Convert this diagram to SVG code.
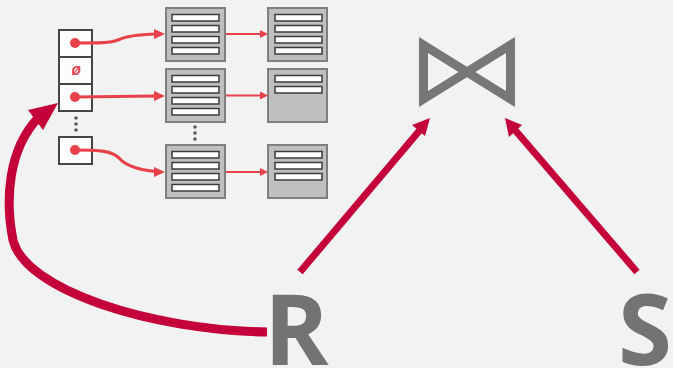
<svg xmlns="http://www.w3.org/2000/svg" width="673" height="368" viewBox="0 0 673 368">
<style>
.cell{fill:#fdfdfd;stroke:#454545;stroke-width:2}
.page{fill:#bfbfbf;stroke:#7f7f7f;stroke-width:2}
.row{fill:#ffffff;stroke:#3c3c3c;stroke-width:1.5}
.dot{fill:#e8414a}
.hl{fill:none;stroke:#e8414a;stroke-width:3.2;stroke-linecap:round}
.pl{fill:none;stroke:#e8414a;stroke-width:2}
.ah{fill:#e8414a}
.big{fill:none;stroke:#c4003a}
.bah{fill:#c4003a}
.vd{fill:#5a5a5a}
.lbl{font-family:"Open Sans",sans-serif;font-weight:700;font-size:98px;fill:#737373}
</style>
<rect width="673" height="368" fill="#f2f2f2"/>
<g id="hashtable">
<rect class="cell" x="59" y="30" width="33" height="27"/>
<rect class="cell" x="59" y="57" width="33" height="27"/>
<rect class="cell" x="59" y="84" width="33" height="27"/>
<rect class="cell" x="59" y="137" width="33" height="27"/>
<circle class="dot" cx="75" cy="43" r="5"/>
<circle class="dot" cx="75" cy="97" r="5"/>
<circle class="dot" cx="75" cy="150" r="5"/>
<text x="76" y="75" text-anchor="middle" font-family="Open Sans,sans-serif" font-style="italic" font-weight="700" font-size="13" fill="#e8414a">Ø</text>
<circle class="vd" cx="76" cy="118" r="1.8"/>
<circle class="vd" cx="76" cy="124" r="1.8"/>
<circle class="vd" cx="76" cy="130" r="1.8"/>
</g>
<g id="page1a">
<rect class="page" x="166" y="8" width="59" height="53"/>
<rect class="row" x="172" y="14.5" width="47" height="6.5"/>
<rect class="row" x="172" y="25.5" width="47" height="6.5"/>
<rect class="row" x="172" y="36.5" width="47" height="6.5"/>
<rect class="row" x="172" y="47.5" width="47" height="6.5"/>
</g>
<g id="page1b">
<rect class="page" x="268" y="8" width="59" height="53"/>
<rect class="row" x="275" y="14.5" width="47" height="6.5"/>
<rect class="row" x="275" y="25.5" width="47" height="6.5"/>
<rect class="row" x="275" y="36.5" width="47" height="6.5"/>
<rect class="row" x="275" y="47.5" width="47" height="6.5"/>
</g>
<g id="page2a">
<rect class="page" x="166" y="69" width="59" height="53"/>
<rect class="row" x="172" y="75.5" width="47" height="6.5"/>
<rect class="row" x="172" y="86.5" width="47" height="6.5"/>
<rect class="row" x="172" y="97.5" width="47" height="6.5"/>
<rect class="row" x="172" y="108.5" width="47" height="6.5"/>
</g>
<g id="page2b">
<rect class="page" x="268" y="69" width="59" height="53"/>
<rect class="row" x="275" y="75.5" width="47" height="6.5"/>
<rect class="row" x="275" y="86.5" width="47" height="6.5"/>
</g>
<g id="pagedots">
<circle class="vd" cx="195" cy="127" r="1.8"/>
<circle class="vd" cx="195" cy="133" r="1.8"/>
<circle class="vd" cx="195" cy="139" r="1.8"/>
</g>
<g id="page3a">
<rect class="page" x="166" y="145" width="59" height="53"/>
<rect class="row" x="172" y="151.5" width="47" height="6.5"/>
<rect class="row" x="172" y="162.5" width="47" height="6.5"/>
<rect class="row" x="172" y="173.5" width="47" height="6.5"/>
<rect class="row" x="172" y="184.5" width="47" height="6.5"/>
</g>
<g id="page3b">
<rect class="page" x="268" y="145" width="59" height="53"/>
<rect class="row" x="275" y="151.5" width="47" height="6.5"/>
<rect class="row" x="275" y="162.5" width="47" height="6.5"/>
<rect class="row" x="275" y="173.5" width="47" height="6.5"/>
</g>
<g id="join">
<path d="M423.5,45 L423.5,99 L510.5,45 L510.5,99 Z" fill="none" stroke="#777777" stroke-width="9" stroke-linejoin="miter" stroke-miterlimit="10"/>
</g>
<g id="R"><text class="lbl" x="264" y="365">R</text></g>
<g id="S"><text class="lbl" x="618" y="365">S</text></g>
<g id="connectors">
<path class="hl" d="M75,43 C100,43 110,43 118,40 C126,36 138,34.5 156,34"/>
<polygon class="ah" points="165,34 154,29 154,39"/>
<path class="hl" d="M75,97 L156,96"/>
<polygon class="ah" points="165,96 154,91 154,101"/>
<path class="hl" d="M75,150 C100,150 112,151 119,158 C126,166 138,170 156,171.5"/>
<polygon class="ah" points="165,172 154,167 154,177"/>
<line class="pl" x1="226" y1="34" x2="261" y2="34"/>
<polygon class="ah" points="268,34 260,30 260,38"/>
<line class="pl" x1="226" y1="95.5" x2="261" y2="95.5"/>
<polygon class="ah" points="268,95.5 260,91.5 260,99.5"/>
<line class="pl" x1="226" y1="172" x2="261" y2="172"/>
<polygon class="ah" points="268,172 260,168 260,176"/>
<line class="big" stroke-width="7" x1="300" y1="272" x2="420" y2="130"/>
<polygon class="bah" points="430,118 412,125 425,136"/>
<line class="big" stroke-width="7" x1="637" y1="272" x2="515" y2="130"/>
<polygon class="bah" points="505,118 509,137 522,125"/>
<path class="big" stroke-width="9" d="M267,332 C150,330 25,290 13,240 C5,200 8,150 38,118"/>
<polygon class="bah" points="58,103 28,110 43,130"/>
</g>
</svg>
